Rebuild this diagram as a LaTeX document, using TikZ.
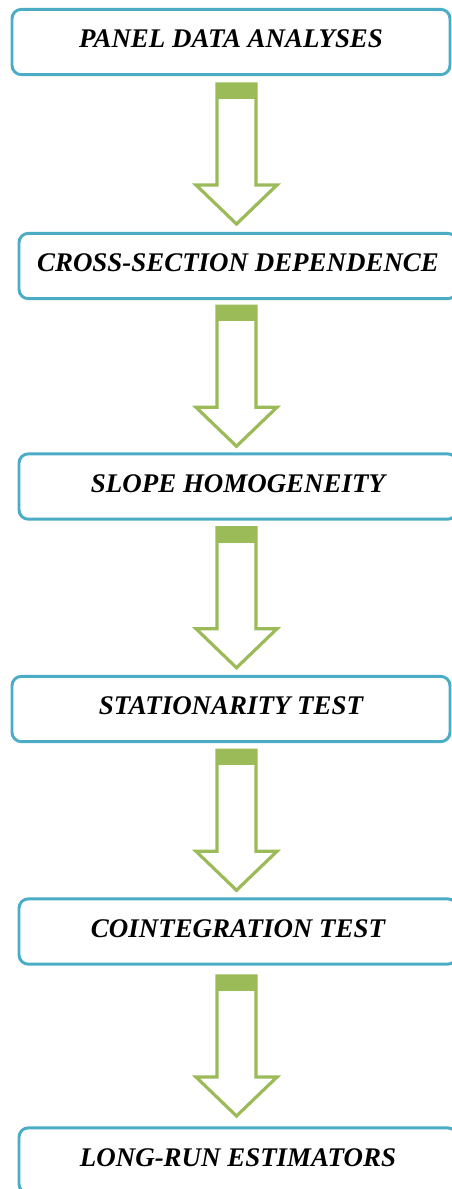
\documentclass[tikz,border=0pt]{standalone}
\usepackage{fontspec}
\setmainfont{Liberation Serif}
\usepackage{tikz}
\usetikzlibrary{calc}
\definecolor{boxblue}{RGB}{75,172,198}
\definecolor{arrowgreen}{RGB}{155,187,89}
\tikzset{stage/.style={draw=boxblue, line width=2.2pt, rounded corners=7pt,
   fill=white, minimum width=328.5pt, minimum height=49pt, text depth=5pt,
   font=\fontsize{20.2}{23}\selectfont\bfseries\itshape},
 blockarrow/.style={draw=arrowgreen, line width=2.4pt, fill=white, line join=miter},
 band/.style={fill=arrowgreen},
 }

\begin{document}
\begin{tikzpicture}[x=0.75pt,y=-0.75pt]
        \useasboundingbox (0,0) rectangle (452,1189);
        \clip (0,0) rectangle (452,1189);
        \node[stage] (panel) at (231,42) {PANEL DATA ANALYSES};
        \node[stage] (cross) at (238,266) {CROSS-SECTION DEPENDENCE};
        \node[stage] (slope) at (238,486.5) {SLOPE HOMOGENEITY};
        \node[stage] (station) at (231,709) {STATIONARITY TEST};
        \node[stage] (coint) at (238,931.5) {COINTEGRATION TEST};
        \node[stage] (longrun) at (238,1160.5) {LONG-RUN ESTIMATORS};
        % block arrows between the stages
        \foreach \a/\b in {panel/cross,cross/slope,slope/station,station/coint,coint/longrun}{
          \path let \p1=(\a.south), \p2=(\b.north) in
            coordinate (mid) at (177.375pt,{0.5*(\y1+\y2)});
          \draw[blockarrow] ([shift={(-19.5,-70)}]mid) -- ([shift={(19.5,-70)}]mid)
            -- ([shift={(19.5,31)}]mid) -- ([shift={(40.5,31)}]mid)
            -- ([shift={(0,70)}]mid) -- ([shift={(-40.5,31)}]mid)
            -- ([shift={(-19.5,31)}]mid) -- cycle;
          \fill[band] ([shift={(-19.5,-70)}]mid) rectangle ([shift={(19.5,-55)}]mid);
        }
    \end{tikzpicture}
\end{document}
